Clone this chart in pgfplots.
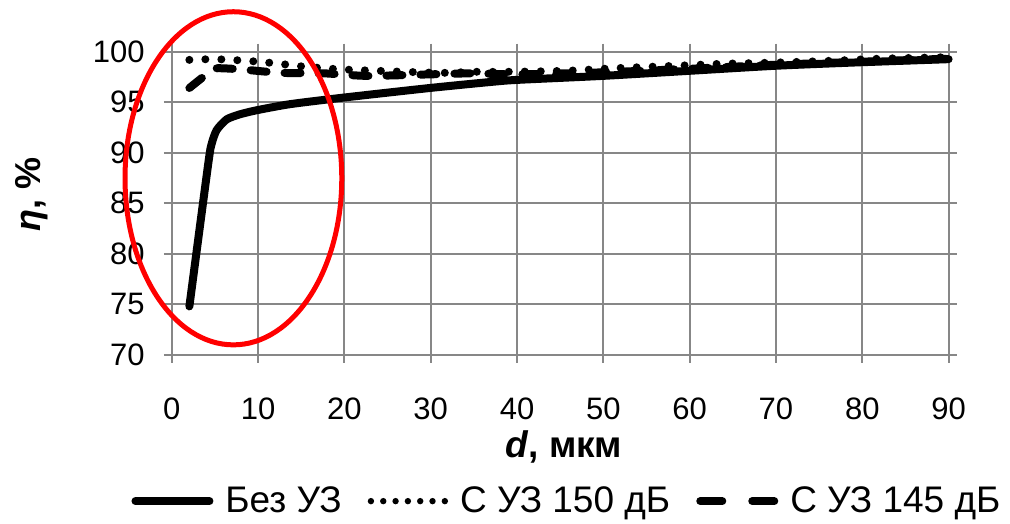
\documentclass[border=0pt]{standalone}
\usepackage{fontspec}
\setmainfont{Liberation Sans}
\usepackage{pgfplots}
\pgfplotsset{compat=1.18}

\definecolor{gridgray}{RGB}{135,135,135}

\begin{document}
\begin{tikzpicture}
    % page size = reference proportions (1 px = 0.5 pt)
    \path[use as bounding box] (-85.9pt,-84.5pt) rectangle (419.2pt,177.5pt);
    \begin{axis}[
        scale only axis,
        width=388.5pt, height=151.7pt,
        xmin=0, xmax=90,
        ymin=70, ymax=100,
        xtick={0,10,...,90},
        ytick={70,75,...,100},
        /pgf/number format/assume math mode=true,
        ticklabel style={font=\fontsize{15.5}{18}\selectfont},
        xticklabel style={yshift=-14pt},
        yticklabel style={xshift=-6pt},
        tick align=outside,
        major tick length=4pt,
        tick style={gridgray, line width=1pt},
        axis line style={gridgray, line width=1pt},
        grid=major,
        major grid style={gridgray, line width=1pt},
        clip=false,
        xlabel={\textbf{\textit{d}, мкм}},
        ylabel={\textbf{\textit{η}, \%}},
        every axis x label/.style={at={(axis description cs:0.505,-0.303)}, anchor=center,
            font=\fontsize{18.5}{22}\selectfont},
        every axis y label/.style={at={(axis description cs:-0.180,0.53)}, anchor=center,
            rotate=90, font=\fontsize{18}{22}\selectfont},
        legend style={at={(axis description cs:0.51,-0.482)}, anchor=center,
            draw=none, fill=none, legend columns=3,
            font=\fontsize{18.5}{22}\selectfont,
            /tikz/every odd column/.append style={column sep=4pt},
            /tikz/every even column/.append style={column sep=11pt}},
        legend image code/.code={\draw[#1] (0pt,0pt) -- (37pt,0pt);},
    ]
        % Без УЗ
        \addplot[black, line width=4pt, line cap=round, line join=round, smooth, tension=0.4] coordinates {
            (2.04,74.8) (4.24,89.0) (4.63,90.9) (5.21,92.25) (6.37,93.3) (7.91,93.8)
            (9.85,94.2) (13.7,94.8) (19.9,95.45) (29.9,96.4) (37,97.0) (40,97.2)
            (50,97.6) (60,98.1) (70,98.6) (80,98.95) (90,99.25)
        };
        \addlegendentry{Без УЗ}
        % С УЗ 150 дБ
        \addplot[black, line width=4pt, line cap=round, dash pattern=on 0pt off 8pt, smooth,
            legend image post style={line width=3.2pt, dash pattern=on 0pt off 6.16pt}] coordinates {
            (2.04,99.18) (5.0,99.25) (8.8,99.08) (11.9,98.85) (15.5,98.5) (19.5,98.25)
            (23.8,98.1) (31.1,97.9) (34.9,98.0) (38.4,98.0) (45.6,98.1) (51.2,98.35)
            (58.5,98.6) (64.0,98.8) (69.3,98.9) (76.7,99.1) (82.1,99.3) (89.8,99.45)
        };
        \addlegendentry{С УЗ 150 дБ}
        % С УЗ 145 дБ
        \addplot[black, line width=4pt, line cap=round, dash pattern=on 8pt off 9pt, smooth, tension=0.4,
            legend image post style={dash pattern=on 11pt off 15pt}] coordinates {
            (2.04,96.4) (4.4,98.0) (5.2,98.35) (7.9,98.25) (12.6,97.9) (17.6,97.85)
            (22.6,97.6) (30,97.75) (34.9,97.85) (40,97.75) (50,97.95) (60,98.3)
            (70,98.7) (80,99.0) (90,99.3)
        };
        \addlegendentry{С УЗ 145 дБ}
        % highlighted region
        \draw[red, line width=2.5pt] (axis cs:7.14,87.47) ellipse [x radius=54.2pt, y radius=83.3pt];
    \end{axis}
\end{tikzpicture}
\end{document}
